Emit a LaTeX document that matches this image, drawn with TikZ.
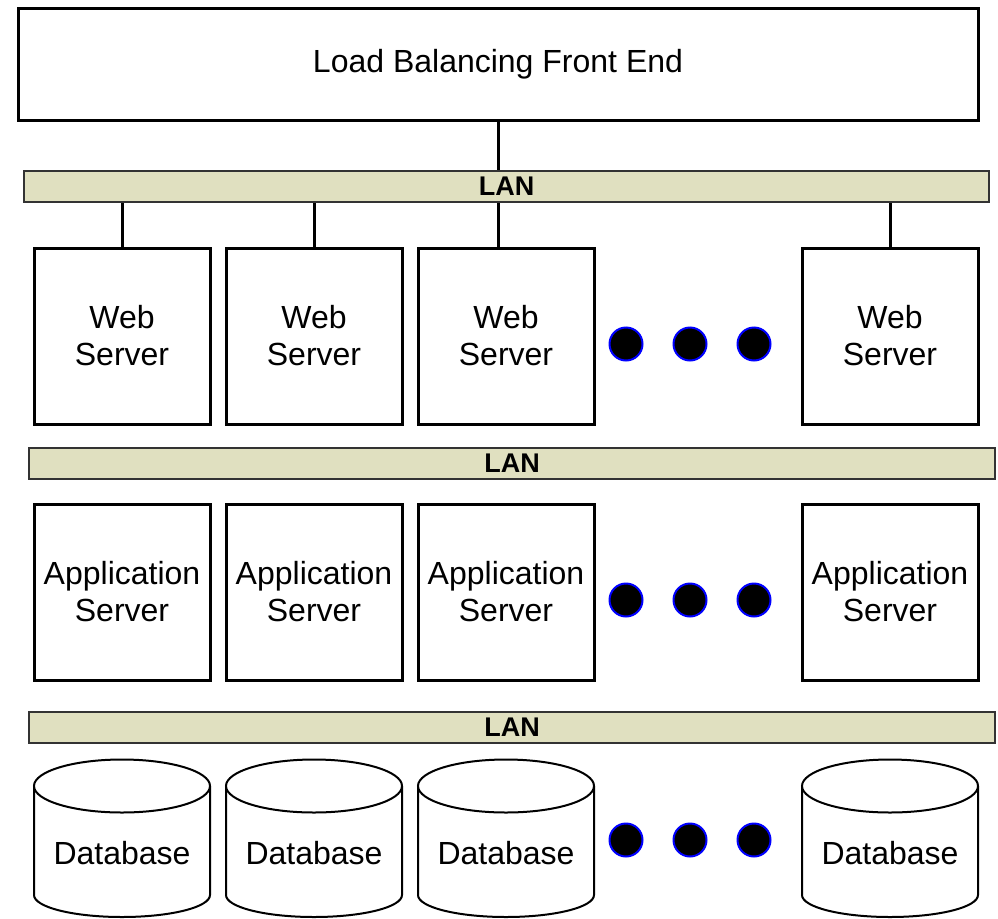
\documentclass[tikz,border=0pt]{standalone}
\usepackage{fontspec}
\setmainfont{Liberation Sans}
\begin{document}
\begin{tikzpicture}[x=1pt,y=-1pt,
  box/.style={draw=black,line width=3pt,fill=white,minimum width=176pt,minimum height=176pt,inner sep=0pt,align=center,font=\fontsize{32}{37}\selectfont},
  topbox/.style={draw=black,line width=3pt,fill=white,minimum width=960pt,minimum height=112pt,inner sep=0pt,font=\fontsize{32}{37}\selectfont},
  lan/.style={draw=black!80,line width=2pt,fill=lanfill,minimum height=31pt,inner sep=0pt,font=\bfseries\fontsize{27}{30}\selectfont},
  link/.style={line width=3pt},
  dot/.style={circle,draw=blue,line width=2pt,fill=black,minimum size=33pt,inner sep=0pt},
  cyl/.style={line width=2pt,fill=white},
  dbtext/.style={font=\fontsize{32}{37}\selectfont,inner sep=0pt}
]
\definecolor{lanfill}{RGB}{224,224,192}
\useasboundingbox (0,0) rectangle (998,918);

% top
\node[topbox] (top) at (498,64) {Load Balancing Front End};

% LANs
\node[lan,minimum width=965pt] (lan1) at (506.5,186.5) {LAN};
\node[lan,minimum width=966pt] (lan2) at (512,463.5) {LAN};
\node[lan,minimum width=966pt] (lan3) at (512,727.5) {LAN};

% web servers
\node[box] (w1) at (122,336) {Web\\Server};
\node[box] (w2) at (314,336) {Web\\Server};
\node[box] (w3) at (506,336) {Web\\Server};
\node[box] (w4) at (890,336) {Web\\Server};

% application servers
\node[box] (a1) at (122,592) {Application\\Server};
\node[box] (a2) at (314,592) {Application\\Server};
\node[box] (a3) at (506,592) {Application\\Server};
\node[box] (a4) at (890,592) {Application\\Server};

% dots
\foreach \y/\r in {344/w,600/a,840/d}{
  \node[dot] (\r dot1) at (626,\y) {};
  \node[dot] (\r dot2) at (690,\y) {};
  \node[dot] (\r dot3) at (754,\y) {};
}

% databases
\foreach \c/\n in {122/1,314/2,506/3,890/4}{
  \draw[cyl] (\c-88,786) -- (\c-88,895) arc[start angle=180,end angle=0,x radius=88,y radius=22] -- (\c+88,786);
  \draw[cyl] (\c,786) ellipse[x radius=88,y radius=26.5];
  \node[dbtext] (d\n) at (\c,853) {Database};
}

% connectors
\draw[link] (top.south) -- (top.south |- lan1.north);
\draw[link] (w1.north |- lan1.south) -- (w1.north);
\draw[link] (w2.north |- lan1.south) -- (w2.north);
\draw[link] (top.south |- lan1.south) -- (top.south |- w3.north);
\draw[link] (w4.north |- lan1.south) -- (w4.north);
\end{tikzpicture}
\end{document}
